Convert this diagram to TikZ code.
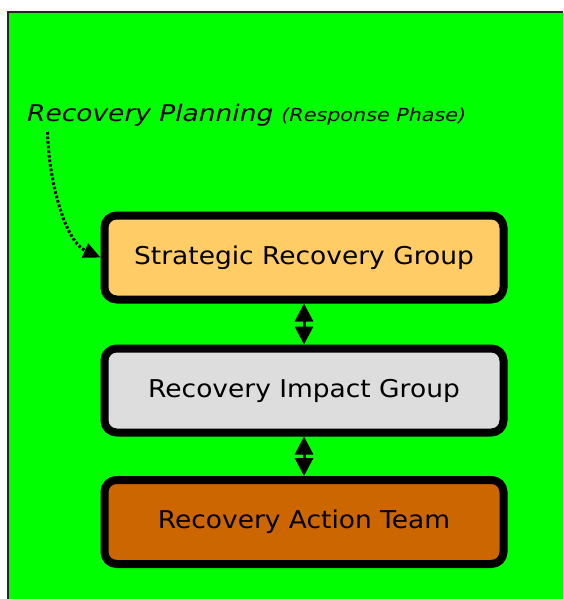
\documentclass[tikz,border=0pt]{standalone}
\usepackage{fontspec}
\usetikzlibrary{arrows.meta}
\newfontfamily\boxfont[FakeStretch=1.08]{DejaVu Sans}
\newfontfamily\titlefont[FakeStretch=1.15]{DejaVu Sans}
\definecolor{bggreen}{HTML}{00FF00}
\definecolor{strat}{HTML}{FFCC66}
\definecolor{impact}{HTML}{DDDDDD}
\definecolor{action}{HTML}{CC6600}
\tikzset{
  groupbox/.style={draw=black, line width=8pt, rounded corners=12pt,
    minimum width=399pt, minimum height=84pt, inner sep=0pt,
    font=\boxfont\fontsize{24.5}{28}\selectfont, text=black},
  linkarrow/.style={line width=3pt, {Triangle[length=18pt,width=18pt]}-{Triangle[length=18pt,width=18pt]}},
  notearrow/.style={line width=3pt, dash pattern=on 2.6pt off 2pt,
    -{Triangle[length=17pt,width=15pt]}}
}
\begin{document}
\begin{tikzpicture}[x=1pt,y=-1pt]
\useasboundingbox (0,0) rectangle (563,599);
\fill[white] (0,0) rectangle (563,599);
\fill[bggreen] (8,12) rectangle (563,599);
\draw[black!85, line width=2pt] (8,599) -- (8,12) -- (563,12);

\node[anchor=base west, inner sep=0pt, text=black, font=\titlefont\itshape] (title) at (27,121.5)
  {\fontsize{23}{27}\selectfont Recovery Planning\hspace{8pt}\fontsize{18}{22}\selectfont(Response Phase)};

\node[groupbox, fill=strat] (s) at (304,257.5) {Strategic Recovery Group};
\node[groupbox, fill=impact] (i) at (304,390.5) {Recovery Impact Group};
\node[groupbox, fill=action] (a) at (304,522) {Recovery Action Team};

\coordinate (start) at (47.5,132);
\draw[notearrow] (start) .. controls (49,185) and (66,242) .. (s.west);

\draw[linkarrow] (s.south) -- (i.north);
\draw[linkarrow] (i.south) -- (a.north);
\end{tikzpicture}
\end{document}
